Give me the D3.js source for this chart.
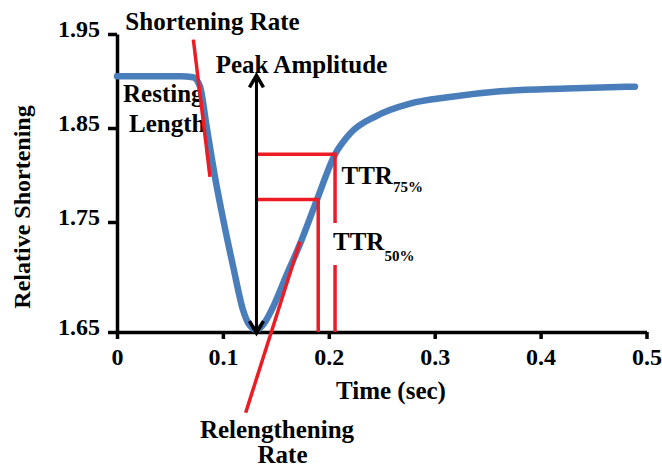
<!DOCTYPE html>
<html>
<head>
<meta charset="utf-8">
<script src="https://cdn.jsdelivr.net/npm/d3@7"></script>
<style>
  html, body { margin: 0; padding: 0; background: #fff; }
</style>
</head>
<body>
<div id="chart"></div>
<script>
// time (sec) and relative shortening
const time = [0, 0.02, 0.04, 0.06, 0.0718, 0.0784, 0.0847, 0.0925, 0.1004, 0.1098, 0.119,
  0.124, 0.1318, 0.139, 0.146, 0.1602, 0.1728, 0.1886, 0.2059, 0.22, 0.2452, 0.2767,
  0.3144, 0.3617, 0.4246, 0.4891];
const shortening = [1.905, 1.905, 1.905, 1.905, 1.904, 1.894, 1.851, 1.798, 1.752, 1.709, 1.67,
  1.658, 1.652, 1.658, 1.67, 1.702, 1.73, 1.773, 1.822, 1.844, 1.863, 1.876,
  1.883, 1.889, 1.892, 1.894];

const xTicks = [0, 0.1, 0.2, 0.3, 0.4, 0.5];
const yTicks = [1.65, 1.75, 1.85, 1.95];

// annotation geometry in data units
const shorteningRateLine = [[0.0721, 1.944], [0.0878, 1.798]];
const relengtheningRateLine = [[0.1728, 1.732], [0.1215, 1.5766]];
const peakAmplitude = { t: 0.1317, from: 1.649, to: 1.906 };
const ttrLevels = [
  { name: '75%', t: 0.2059, level: 1.822 },
  { name: '50%', t: 0.190, level: 1.774 }
];

const width = 662, height = 468;
const serif = '"Liberation Serif", "Times New Roman", Times, "DejaVu Serif", serif';

const svg = d3.select('#chart')
  .append('svg')
  .attr('width', width)
  .attr('height', height)
  .attr('font-family', serif)
  .attr('font-weight', 'bold');

const x = d3.scaleLinear().domain([0, 0.5]).range([117, 646.5]);
// the printed axis is not evenly spaced below 1.75
const y = d3.scaleLinear().domain([1.65, 1.75, 1.95]).range([332, 222, 34]);

// axes
const yAxis = svg.append('g')
  .attr('transform', `translate(${x(0)},0)`)
  .call(d3.axisLeft(y).tickValues(yTicks).tickFormat(d3.format('.2f'))
    .tickSize(9).tickSizeOuter(0).tickPadding(8));

const xAxis = svg.append('g')
  .attr('transform', `translate(0,${y(1.65)})`)
  .call(d3.axisBottom(x).tickValues(xTicks)
    .tickFormat(d => d === 0 ? '0' : d.toFixed(1))
    .tickSize(7).tickSizeOuter(0).tickPadding(9));

[yAxis, xAxis].forEach(g => {
  g.attr('font-family', serif).attr('font-size', 24);
  g.selectAll('text').attr('fill', '#000');
});
yAxis.selectAll('text').attr('dy', '0.1em');

svg.selectAll('.domain, .tick line')
  .attr('stroke', '#000')
  .attr('stroke-width', 3.5);

// axis titles
svg.append('text')
  .attr('transform', 'translate(30,207) rotate(-90)')
  .attr('text-anchor', 'middle')
  .attr('font-size', 24)
  .text('Relative Shortening');

svg.append('text')
  .attr('x', 391)
  .attr('y', 399)
  .attr('text-anchor', 'middle')
  .attr('font-size', 25)
  .text('Time (sec)');

// labels sitting behind the trace
svg.append('text').attr('x', 123).attr('y', 101.5).attr('font-size', 25).text('Resting');
svg.append('text').attr('x', 129).attr('y', 131.5).attr('font-size', 25).text('Length');

// trace
const line = d3.line()
  .x(d => x(d[0]))
  .y(d => y(d[1]))
  .curve(d3.curveMonotoneX);

svg.append('path')
  .datum(time.map((t, i) => [t, shortening[i]]))
  .attr('d', line)
  .attr('fill', 'none')
  .attr('stroke', '#4a7ebb')
  .attr('stroke-width', 6.5)
  .attr('stroke-linecap', 'round')
  .attr('stroke-linejoin', 'round');

// red annotation lines
const red = '#ed1c24';
const straight = d3.line().x(d => x(d[0])).y(d => y(d[1]));

[shorteningRateLine, relengtheningRateLine].forEach(seg => {
  svg.append('path')
    .attr('d', straight(seg))
    .attr('fill', 'none')
    .attr('stroke', red)
    .attr('stroke-width', 3.5);
});

ttrLevels.forEach(d => {
  svg.append('path')
    .attr('d', straight([[peakAmplitude.t, d.level], [d.t, d.level], [d.t, 1.65]]))
    .attr('fill', 'none')
    .attr('stroke', red)
    .attr('stroke-width', 3.5);
});

// TTR labels (the 50% one blanks out the line behind it)
svg.append('rect')
  .attr('x', 331).attr('y', 223)
  .attr('width', 84).attr('height', 42)
  .attr('fill', '#fff');

function ttrLabel(xp, yp, sub, dy) {
  const t = svg.append('text').attr('x', xp).attr('y', yp).attr('font-size', 25);
  t.append('tspan').text('TTR');
  t.append('tspan').attr('font-size', 15).attr('dy', dy).text(sub);
}
ttrLabel(341.5, 183.5, ttrLevels[0].name, 8.5);
ttrLabel(333, 250, ttrLevels[1].name, 11);

svg.append('text').attr('x', 212.5).attr('y', 30).attr('text-anchor', 'middle')
  .attr('font-size', 25).text('Shortening Rate');
svg.append('text').attr('x', 301.5).attr('y', 73).attr('text-anchor', 'middle')
  .attr('font-size', 25).text('Peak Amplitude');
svg.append('text').attr('x', 277).attr('y', 438).attr('text-anchor', 'middle')
  .attr('font-size', 25).text('Relengthening');
svg.append('text').attr('x', 282.5).attr('y', 463).attr('text-anchor', 'middle')
  .attr('font-size', 25).text('Rate');

// peak amplitude double arrow
const ax = x(peakAmplitude.t);
const yTop = y(peakAmplitude.to), yBot = y(peakAmplitude.from);
svg.append('line')
  .attr('x1', ax).attr('x2', ax)
  .attr('y1', yTop + 1).attr('y2', yBot - 1)
  .attr('stroke', '#000').attr('stroke-width', 3);
[[yTop, 1], [yBot, -1]].forEach(([tip, dir]) => {
  svg.append('path')
    .attr('d', `M${ax - 7},${tip + dir * 12}L${ax},${tip}L${ax + 7},${tip + dir * 12}`)
    .attr('fill', 'none')
    .attr('stroke', '#000')
    .attr('stroke-width', 3.5)
    .attr('stroke-linejoin', 'miter');
});
</script>
</body>
</html>
